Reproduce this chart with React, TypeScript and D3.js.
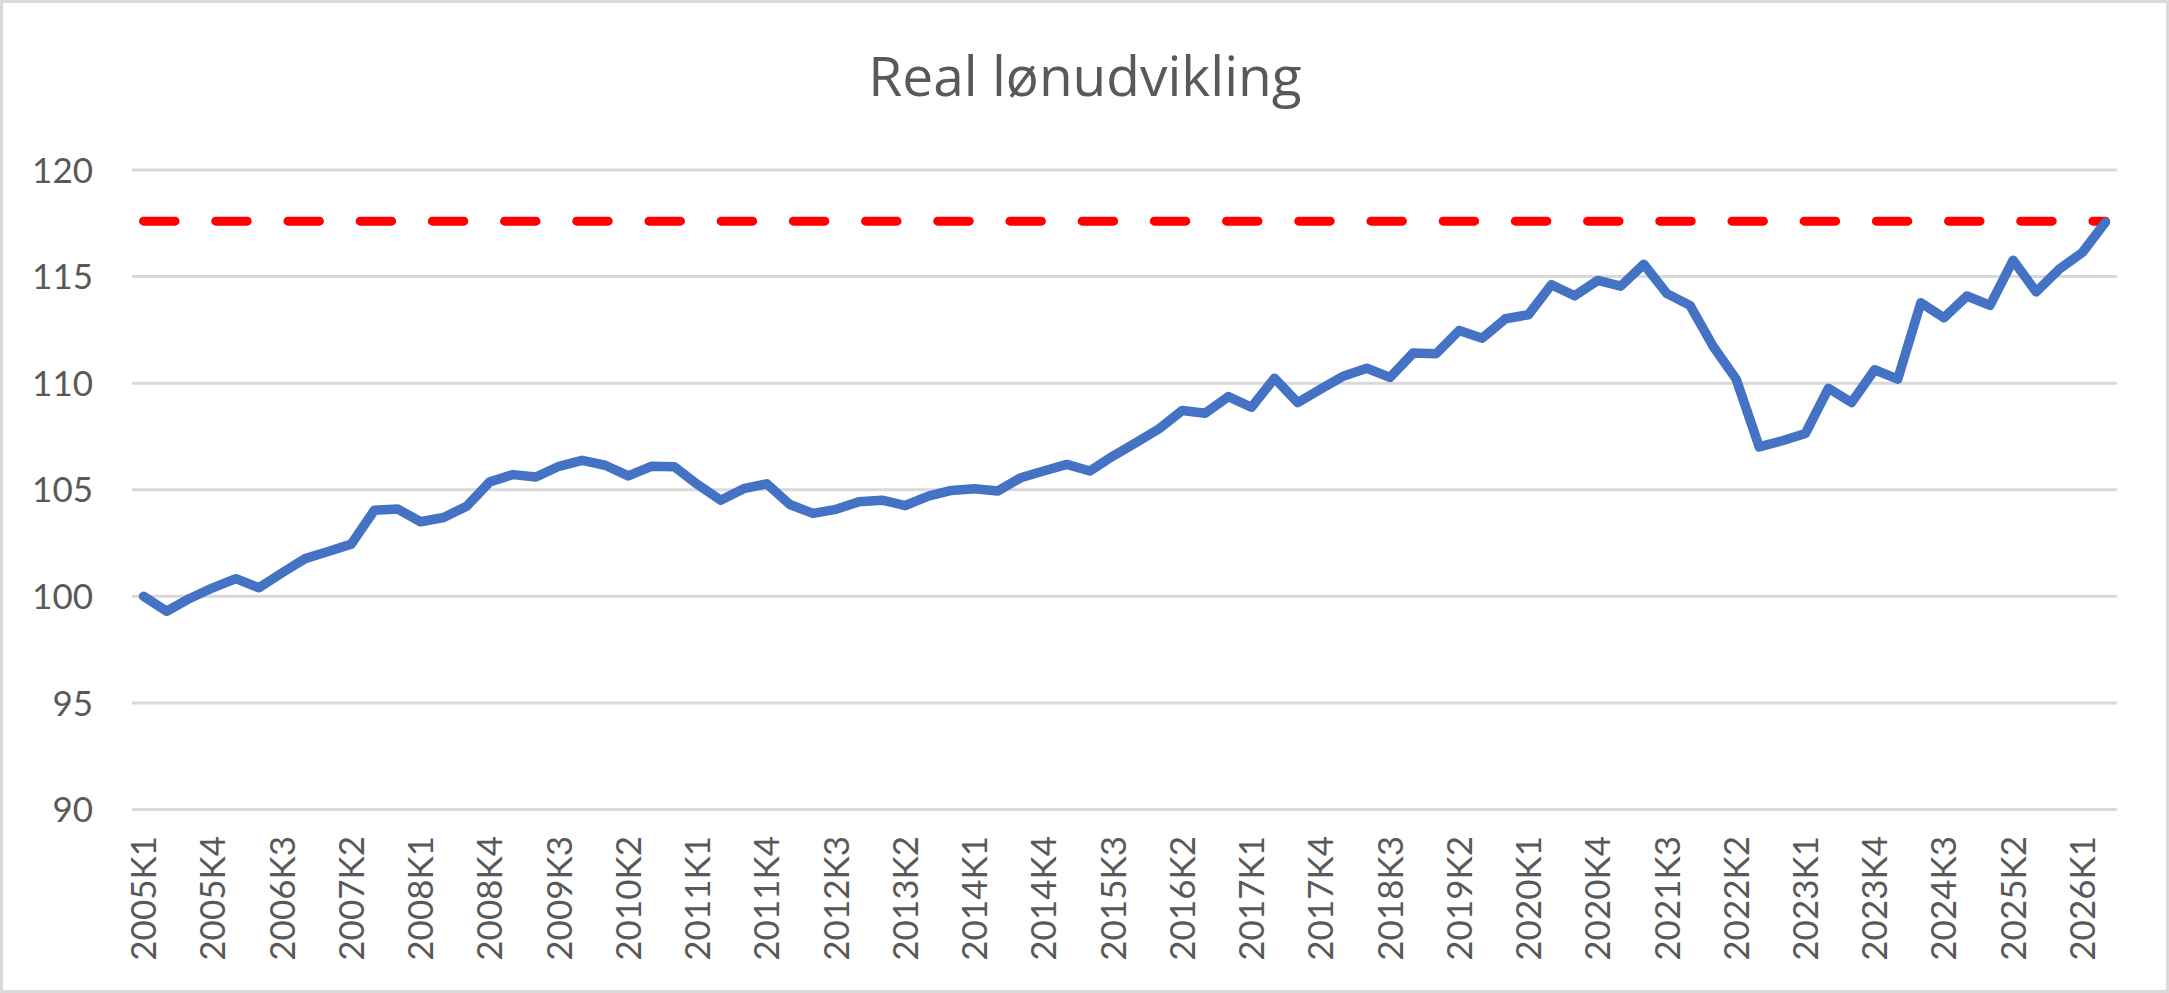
import React, { useRef, useEffect } from 'react';
import * as d3 from 'd3';

// Quarter labels 2005K1 .. 2026K2
const years = d3.range(2005, 2027);
const quarters = years.flatMap((y) => [1, 2, 3, 4].map((q) => `${y}K${q}`)).slice(0, 86);

// Real wage index (2005K1 = 100)
const realWage = [
  100.0, 99.3, 99.9, 100.4, 100.83, 100.4, 101.1, 101.77, 102.1, 102.45,
  104.04, 104.1, 103.5, 103.7, 104.23, 105.37, 105.71, 105.6, 106.1, 106.38,
  106.15, 105.65, 106.1, 106.08, 105.25, 104.51, 105.05, 105.28, 104.31, 103.89,
  104.08, 104.44, 104.51, 104.26, 104.7, 104.97, 105.05, 104.94, 105.56, 105.88,
  106.19, 105.88, 106.58, 107.21, 107.86, 108.72, 108.59, 109.37, 108.87, 110.23,
  109.09, 109.72, 110.34, 110.7, 110.27, 111.41, 111.38, 112.47, 112.11, 113.02,
  113.21, 114.62, 114.1, 114.82, 114.55, 115.58, 114.2, 113.65, 111.73, 110.19,
  107.01, 107.3, 107.64, 109.76, 109.09, 110.63, 110.19, 113.77, 113.07, 114.09,
  113.65, 115.77, 114.28, 115.35, 116.13, 117.55,
];

// Reference level (dashed red line)
const targetLevel = quarters.map(() => 117.6);

const yTicks = [90, 95, 100, 105, 110, 115, 120];
const title = 'Real lønudvikling';

export default function App() {
  const svgRef = useRef<SVGSVGElement>(null);

  useEffect(() => {
    if (!svgRef.current) return;
    const svg = d3.select(svgRef.current);
    svg.selectAll('*').remove();

    const width = 2169;
    const height = 993;
    const left = 132;
    const right = 2117;
    const top = 170;
    const bottom = 809.5;
    const font = 'Lato, "Open Sans", sans-serif';
    const textColor = '#595959';

    svg.attr('width', width).attr('height', height);

    // Chart area border
    svg
      .append('rect')
      .attr('x', 1.5)
      .attr('y', 1.5)
      .attr('width', width - 3)
      .attr('height', height - 3)
      .attr('fill', '#ffffff')
      .attr('stroke', '#d9d9d9')
      .attr('stroke-width', 3);

    const x = d3.scaleBand<string>().domain(quarters).range([left, right]).padding(0);
    const y = d3.scaleLinear().domain([90, 120]).range([bottom, top]);
    const cx = (q: string) => (x(q) as number) + x.bandwidth() / 2;

    // Title
    svg
      .append('text')
      .attr('x', 1085)
      .attr('y', 96)
      .attr('text-anchor', 'middle')
      .attr('font-family', '"Open Sans", Lato, sans-serif')
      .attr('font-size', 55)
      .attr('fill', textColor)
      .text(title);

    // Grid lines
    svg
      .append('g')
      .selectAll('line')
      .data(yTicks)
      .enter()
      .append('line')
      .attr('x1', left)
      .attr('x2', right)
      .attr('y1', (d) => y(d))
      .attr('y2', (d) => y(d))
      .attr('stroke', '#d9d9d9')
      .attr('stroke-width', 3);

    // Y labels
    svg
      .append('g')
      .selectAll('text')
      .data(yTicks)
      .enter()
      .append('text')
      .attr('x', 93)
      .attr('y', (d) => y(d))
      .attr('dy', '0.36em')
      .attr('text-anchor', 'end')
      .attr('font-family', font)
      .attr('font-size', 35)
      .attr('fill', textColor)
      .text((d) => d);

    // X labels, every third quarter
    svg
      .append('g')
      .selectAll('text')
      .data(quarters.filter((_, i) => i % 3 === 0))
      .enter()
      .append('text')
      .attr('transform', (d) => `translate(${cx(d)},836) rotate(-90)`)
      .attr('dy', '0.36em')
      .attr('text-anchor', 'end')
      .attr('font-family', font)
      .attr('font-size', 35)
      .attr('fill', textColor)
      .text((d) => d);

    const line = d3
      .line<number>()
      .x((_, i) => cx(quarters[i]))
      .y((d) => y(d));

    // Dashed reference line
    svg
      .append('path')
      .datum(targetLevel)
      .attr('d', line)
      .attr('fill', 'none')
      .attr('stroke', '#ff0000')
      .attr('stroke-width', 9)
      .attr('stroke-linecap', 'round')
      .attr('stroke-dasharray', '31.5,40.7');

    // Real wage line
    svg
      .append('path')
      .datum(realWage)
      .attr('d', line)
      .attr('fill', 'none')
      .attr('stroke', '#4472c4')
      .attr('stroke-width', 9.5)
      .attr('stroke-linejoin', 'round')
      .attr('stroke-linecap', 'round');
  }, []);

  return (
    <div style={{ position: 'absolute', left: 0, top: 0 }}>
      <svg ref={svgRef} style={{ display: 'block' }} />
    </div>
  );
}
